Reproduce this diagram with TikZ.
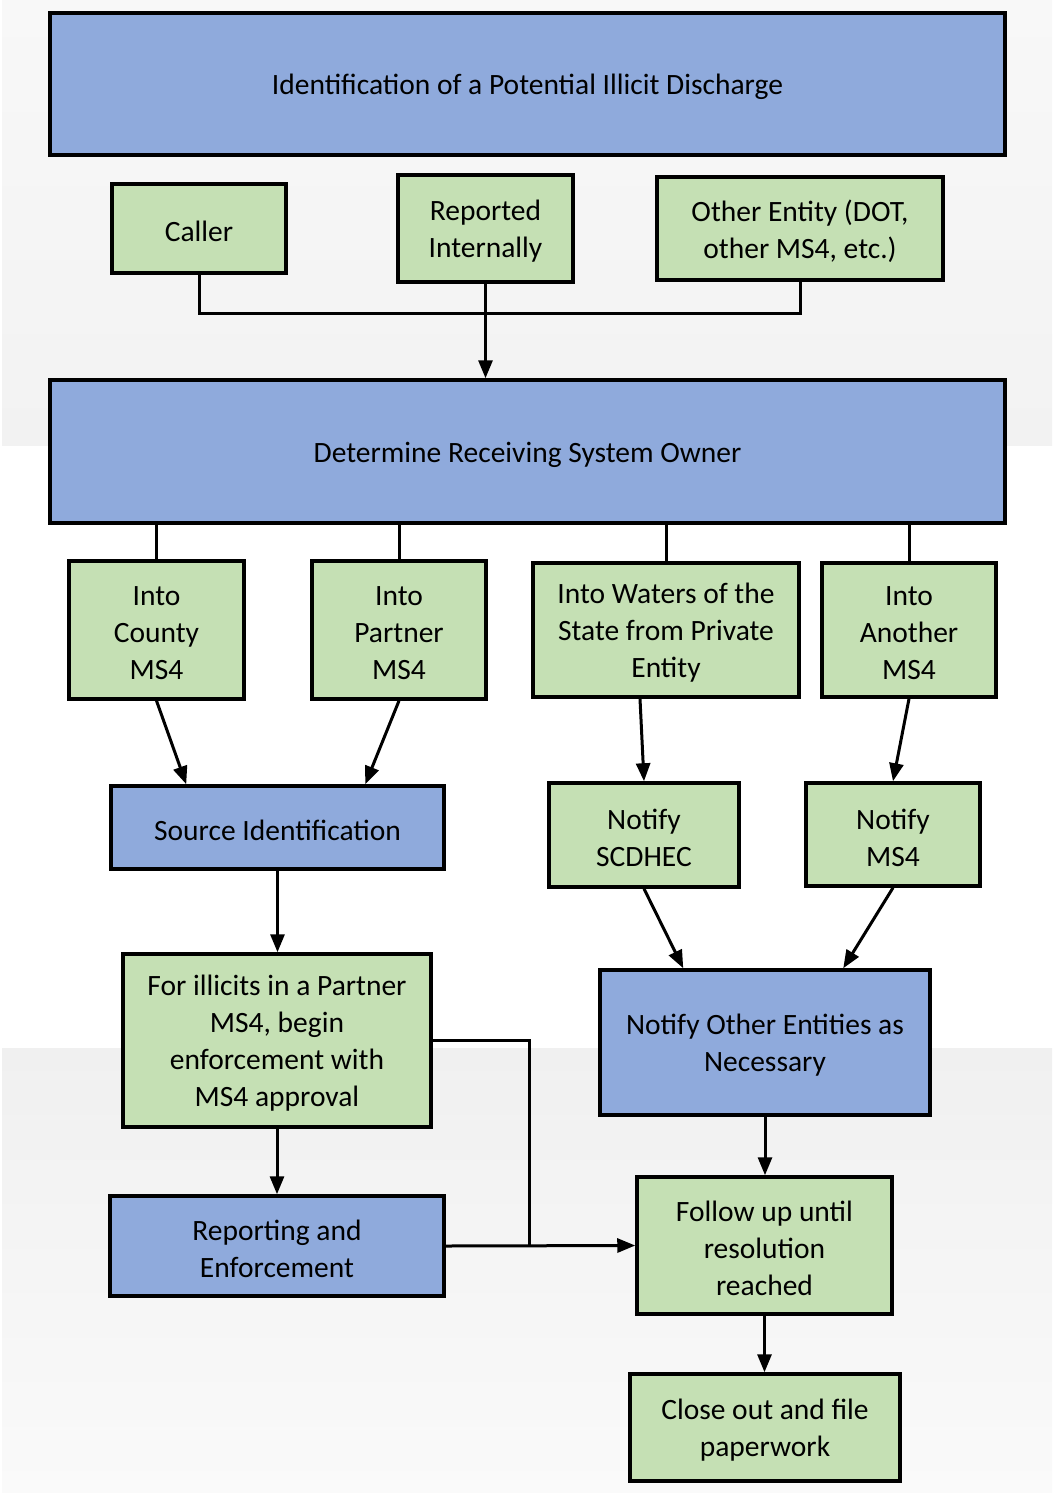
\documentclass[tikz,border=0pt]{standalone}
\usepackage{fontspec}
\setmainfont{Carlito}
\usetikzlibrary{arrows.meta,calc}
\definecolor{bxblue}{HTML}{8FAADC}
\definecolor{bxgreen}{HTML}{C5E0B4}
\definecolor{bgA}{HTML}{F8F8F8}
\definecolor{bgB}{HTML}{F2F2F2}
\definecolor{bgC}{HTML}{F0F0F0}
\definecolor{bgD}{HTML}{FAFAFA}
\tikzset{
  box/.style={draw=black, line width=3.5pt, inner sep=0pt},
  bluebox/.style={box, fill=bxblue},
  greenbox/.style={box, fill=bxgreen},
  boxtext/.style={inner sep=0pt, align=center, font=\fontsize{29.5}{37}\selectfont},
  conn/.style={line width=3pt},
  arr/.style={line width=3pt, -{Triangle[length=18pt,width=14pt]}},
}
\newcommand{\bx}[7]{% style, name, x1, y1, x2, y2, text
  \node[#1, minimum width={#5-#3}, minimum height={#6-#4}] (#2) at ({(#3+#5)/2},{(#4+#6)/2}) {};
  \node[boxtext] (#2-t) at ([yshift=-3pt]#2.center) {#7};}
\begin{document}
\begin{tikzpicture}[x=1pt,y=-1pt]
\useasboundingbox (0,0) rectangle (1052,1493);
\fill[white] (0,0) rectangle (1052,1493);
\shade[top color=bgA, bottom color=bgB] (2,0) rectangle (1052,445);
\shade[top color=bgC, bottom color=bgD] (2,1048) rectangle (1052,1493);

\bx{bluebox}{top}{50}{13}{1005}{155}{Identification of a Potential Illicit Discharge}
\bx{greenbox}{caller}{112}{184}{286}{273}{Caller}
\bx{greenbox}{rep}{398}{175}{573}{282}{Reported\\Internally}
\bx{greenbox}{other}{657}{177}{943}{280}{Other Entity (DOT,\\other MS4, etc.)}
\bx{bluebox}{det}{50}{380}{1005}{523}{Determine Receiving System Owner}
\bx{greenbox}{county}{69}{561}{244}{699}{Into\\County\\MS4}
\bx{greenbox}{partner}{312}{561}{486}{699}{Into\\Partner\\MS4}
\bx{greenbox}{waters}{533}{563}{799}{697}{Into Waters of the\\State from Private\\Entity}
\bx{greenbox}{another}{822}{563}{996}{697}{Into\\Another\\MS4}
\bx{bluebox}{source}{111}{786}{444}{869}{Source Identification}
\bx{greenbox}{scdhec}{549}{783}{739}{887}{Notify\\SCDHEC}
\bx{greenbox}{nms4}{806}{783}{980}{886}{Notify\\MS4}
\bx{bluebox}{nother}{600}{970}{930}{1115}{Notify Other Entities as\\Necessary}
\bx{greenbox}{illicit}{123}{954}{431}{1127}{For illicits in a Partner\\MS4, begin\\enforcement with\\MS4 approval}
\bx{bluebox}{repenf}{110}{1196}{444}{1296}{Reporting and\\Enforcement}
\bx{greenbox}{follow}{637}{1177}{892}{1314}{Follow up until\\resolution\\reached}
\bx{greenbox}{close}{630}{1374}{900}{1481}{Close out and file\\paperwork}

% merge of the three sources
\coordinate (j1) at (485.5,313);
\draw[conn] (caller.south) |- (j1) -| (other.south);
\draw[arr] (rep.south) -- (rep.south |- det.north);

% determine to the four branches
\draw[conn] (det.south -| county.north) -- (county.north);
\draw[conn] (det.south -| partner.north) -- (partner.north);
\draw[conn] (det.south -| waters.north) -- (waters.north);
\draw[conn] (det.south -| another.north) -- (another.north);

% diagonals
\draw[arr] (county.south) -- ([xshift=77pt]source.north west);
\draw[arr] (partner.south) -- ([xshift=256pt]source.north west);
\draw[arr] ([xshift=-26pt]waters.south) -- (scdhec.north);
\draw[arr] (another.south) -- (nms4.north);
\draw[arr] (scdhec.south) -- ([xshift=85pt]nother.north west);
\draw[arr] (nms4.south) -- ([xshift=245pt]nother.north west);

% left column
\draw[arr] (source.south) -- (source.south |- illicit.north);
\draw[arr] (illicit.south) -- (illicit.south |- repenf.north);

% right column
\draw[arr] (nother.south) -- (nother.south |- follow.north);
\draw[arr] (follow.south) -- (follow.south |- close.north);

% to follow up
\coordinate (j2) at (529,1245.5);
\draw[conn] (illicit.east) -| ([yshift=-1.5pt]j2);
\draw[arr] (repenf.east) -- (follow.west);
\end{tikzpicture}
\end{document}
